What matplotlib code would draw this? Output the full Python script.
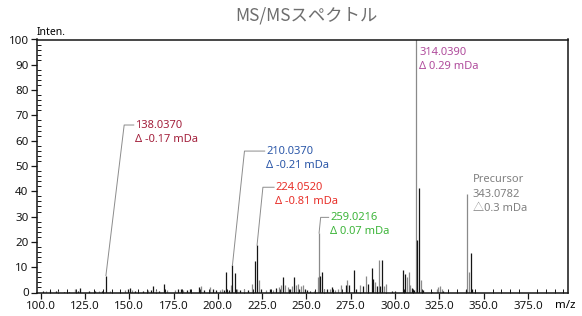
import matplotlib
matplotlib.use("Agg")
import matplotlib.pyplot as plt
from matplotlib.ticker import MultipleLocator, FormatStrFormatter

plt.rcParams["font.family"] = ["Noto Sans", "Noto Sans CJK JP", "DejaVu Sans"]

TITLE = "MS/MSスペクトル"

# peaks drawn in gray
gray_mz = [103.0, 110.0, 119.6, 133.0, 139.0, 147.5, 151.5, 160.5, 165.0, 171.5,
           176.0, 180.5, 190.5, 195.5, 201.0, 202.5, 207.5, 211.0, 215.0, 219.5,
           223.0, 227.0, 231.0, 234.5, 235.8, 238.0, 239.5, 242.0, 244.0, 245.0,
           247.0, 248.0, 254.0, 256.3, 257.1, 260.0, 263.0, 266.0, 268.0, 269.5,
           273.1, 280.3, 283.5, 288.7, 290.8, 293.8, 294.9, 306.6, 307.7, 308.6,
           311.8, 314.5, 323.5, 324.4, 325.4, 326.3, 340.4, 341.6]
gray_int = [0.5, 0.4, 1.2, 0.5, 0.5, 1.0, 0.8, 0.8, 0.8, 0.9,
            1.0, 0.9, 2.4, 2.2, 1.0, 1.4, 3.0, 1.2, 1.2, 3.5,
            5.0, 1.0, 1.0, 2.0, 2.8, 3.0, 2.0, 2.5, 2.8, 3.5,
            2.6, 2.8, 0.5, 6.3, 23.5, 1.2, 1.2, 1.0, 1.5, 3.0,
            5.0, 3.0, 6.5, 4.0, 12.8, 2.5, 3.3, 6.1, 8.2, 3.0,
            100.0, 5.0, 1.5, 2.2, 2.5, 1.5, 39.0, 8.0]

# peaks drawn in black
black_mz = [101.5, 105.5, 108.5, 113.0, 116.0, 121.0, 122.0, 127.0, 130.5, 134.8,
            136.8, 145.0, 149.0, 150.5, 153.0, 158.0, 162.0, 163.6, 167.0, 169.3,
            177.5, 179.0, 182.5, 184.0, 189.5, 192.0, 197.0, 199.0, 203.5, 204.5,
            206.5, 208.2, 209.4, 212.5, 217.0, 221.2, 222.1, 224.5, 229.5, 233.0,
            237.0, 240.5, 243.0, 246.0, 249.0, 250.5, 252.0, 257.8, 258.6, 261.5,
            264.5, 272.2, 274.0, 276.9, 278.0, 282.1, 284.9, 286.8, 287.8, 289.8,
            291.5, 292.8, 298.1, 300.0, 304.7, 305.6, 309.8, 310.7, 312.6, 313.7,
            315.6, 320.7, 327.2, 339.9, 342.7, 343.4]
black_int = [0.6, 0.4, 0.5, 0.3, 0.3, 0.6, 1.6, 0.4, 0.5, 0.6,
             6.7, 0.3, 1.2, 1.6, 0.5, 0.4, 1.1, 2.5, 0.5, 3.3,
             1.4, 1.2, 1.0, 1.3, 2.0, 1.0, 1.5, 0.9, 0.8, 8.2,
             1.0, 10.7, 7.8, 1.0, 0.8, 12.4, 18.7, 1.2, 1.2, 1.6,
             6.0, 1.5, 6.2, 1.5, 1.2, 0.8, 0.6, 6.7, 8.2, 1.5,
             2.0, 3.0, 3.0, 8.8, 1.5, 2.5, 3.4, 9.6, 5.5, 2.5,
             2.6, 12.7, 0.6, 0.5, 8.8, 7.5, 1.7, 1.0, 20.6, 41.3,
             0.8, 0.3, 0.5, 1.0, 15.8, 1.5]

# labelled fragments: peak position, height, label lines, colour
labels = [
    (136.8, 6.7, ["138.0370", "Δ -0.17 mDa"], "#a3203c"),
    (208.2, 10.7, ["210.0370", "Δ -0.21 mDa"], "#2b57a8"),
    (222.1, 18.7, ["224.0520", "Δ -0.81 mDa"], "#e8302a"),
    (257.1, 23.5, ["259.0216", "Δ 0.07 mDa"], "#3db53a"),
]
label_corner = [(147.1, 66.2), (215.0, 55.9), (225.4, 41.6), (258.0, 29.7)]
label_text_x = [153.3, 227.2, 232.5, 263.3]

base_peak_label = ["314.0390", "Δ 0.29 mDa"]
precursor_label = ["Precursor", "343.0782", "△0.3 mDa"]

fig = plt.figure(figsize=(5.82, 3.16), dpi=100)
ax = fig.add_axes([37 / 582, 1 - 292.5 / 316, (568 - 37) / 582, (292.5 - 39.5) / 316])

ax.vlines(gray_mz, 0, gray_int, colors="#8a8a8a", lw=0.9)
ax.vlines(black_mz, 0, black_int, colors="#151515", lw=0.9)

line_step = 5.6
for (mz, h, lines, color), (cx, cy), tx in zip(labels, label_corner, label_text_x):
    ax.plot([mz, cx, tx - 0.8], [h, cy, cy], color="#8c8c8c", lw=0.7)
    for i, s in enumerate(lines):
        ax.text(tx, cy - i * line_step, s, color=color, fontsize=8,
                ha="left", va="center")

for i, s in enumerate(base_peak_label):
    ax.text(313.7, 94.8 - i * line_step, s, color="#b04c9c", fontsize=8,
            ha="left", va="center")
for i, s in enumerate(precursor_label):
    ax.text(343.8, 44.5 - i * line_step, s, color="#808080", fontsize=8,
            ha="left", va="center")

ax.set_xlim(97.9, 397.6)
ax.set_ylim(0, 100)
ax.xaxis.set_major_locator(MultipleLocator(25))
ax.xaxis.set_minor_locator(MultipleLocator(5))
ax.yaxis.set_major_locator(MultipleLocator(10))
ax.yaxis.set_minor_locator(MultipleLocator(2))
ax.xaxis.set_major_formatter(FormatStrFormatter("%.1f"))
ax.set_xticks([100 + 25 * i for i in range(12)])

ax.tick_params(which="major", direction="out", length=4, width=0.9,
               labelsize=8.3, pad=2, colors="#151515")
ax.tick_params(which="minor", direction="in", length=3, width=0.7, colors="#151515")
for s in ax.spines.values():
    s.set_linewidth(1.1)
    s.set_color("#151515")

fig.text(37 / 582, 1 - 35 / 316, "Inten.", fontsize=7.5, ha="left", va="baseline")
fig.text(576 / 582, 1 - 305.5 / 316, "m/z", fontsize=8.3, ha="right", va="center")
fig.text(306 / 582, 1 - 15 / 316, TITLE, fontsize=12.5, color="#6e6e6e",
         ha="center", va="center", family=["Noto Sans CJK JP", "DejaVu Sans"])

fig.savefig("out.png", dpi=100)
